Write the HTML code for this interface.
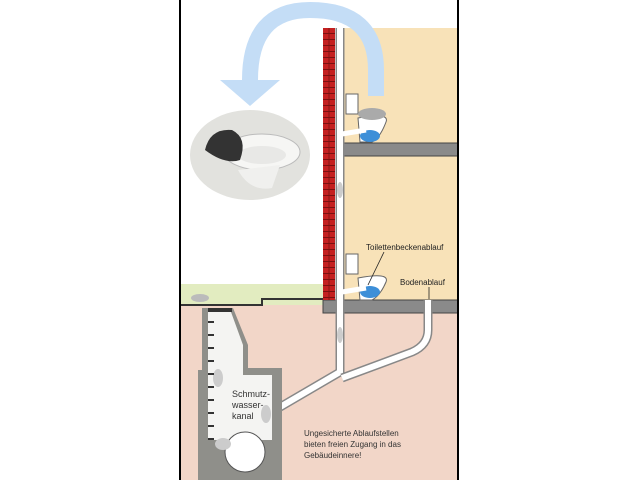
<!DOCTYPE html>
<html><head><style>body{margin:0;background:#fff}svg{display:block}</style></head><body>
<svg width="640" height="480" viewBox="0 0 640 480" xmlns="http://www.w3.org/2000/svg" font-family="Liberation Sans, sans-serif">
<defs>
<pattern id="brick" x="323" y="28" width="12" height="6" patternUnits="userSpaceOnUse">
<rect width="12" height="6" fill="#c42020"/>
<line x1="0" y1="5.5" x2="12" y2="5.5" stroke="#7a1010" stroke-width="1"/>
<line x1="6" y1="0" x2="6" y2="5.5" stroke="#7a1010" stroke-width="0.8"/>
</pattern>
</defs>
<rect width="640" height="480" fill="#fff"/>
<rect x="343" y="28" width="115" height="273" fill="#f8e2b8"/>
<rect x="181" y="284" width="142" height="21" fill="#e2ecc0"/>
<rect x="181" y="305" width="277" height="175" fill="#f2d6c8"/>
<path d="M181 305 H262 V299 H323" fill="none" stroke="#333" stroke-width="2"/>
<rect x="343" y="143" width="115" height="13" fill="#8a8a8a" stroke="#444"/>
<rect x="323" y="300" width="135" height="13" fill="#8a8a8a" stroke="#444"/>
<rect x="323" y="28" width="12" height="272" fill="url(#brick)"/>
<rect x="342" y="28" width="2" height="115" fill="#552"/>
<path d="M340 28 V372 L275 410" fill="none" stroke="#888" stroke-width="9"/>
<path d="M340 28 V372 L275 410" fill="none" stroke="#fff" stroke-width="6"/>
<path d="M428 300 V330 Q428 345 412 352 L342 378" fill="none" stroke="#888" stroke-width="9"/>
<path d="M428 300 V330 Q428 345 412 352 L342 378" fill="none" stroke="#fff" stroke-width="6"/>
<g>
<rect x="346" y="94" width="12" height="20" fill="#fff" stroke="#666"/>
<path d="M358 118 Q390 112 386 122 Q380 138 372 142 H360 Z" fill="#fff" stroke="#666"/>
<ellipse cx="370" cy="136" rx="10" ry="6" fill="#3d8fd8"/>
<ellipse cx="372" cy="114" rx="14" ry="6" fill="#aaa"/>
<path d="M342 134 L366 130" stroke="#fff" stroke-width="5"/>
</g>
<g>
<rect x="346" y="254" width="12" height="20" fill="#fff" stroke="#666"/>
<path d="M358 278 Q390 272 386 282 Q380 296 372 300 H360 Z" fill="#fff" stroke="#666"/>
<ellipse cx="370" cy="292" rx="10" ry="6" fill="#3d8fd8"/>
<path d="M342 292 L366 288" stroke="#fff" stroke-width="5"/>
</g>
<ellipse cx="200" cy="298" rx="9" ry="4" fill="#bbb"/>
<path d="M202 308 H233 L248 345 V368 H282 V480 H198 V370 H202 Z" fill="#8f8f8a"/>
<path d="M208 312 H231 L243 345 V375 H272 V440 H262 Q262 470 245 472 Q228 470 228 440 H208 Z" fill="#f4f4f2"/>
<circle cx="245" cy="452" r="20" fill="#fff" stroke="#555"/>
<rect x="208" y="308" width="24" height="4" fill="#333"/>
<ellipse cx="218" cy="378" rx="5" ry="9" fill="#ccc"/>
<ellipse cx="266" cy="414" rx="5" ry="9" fill="#ccc"/>
<ellipse cx="223" cy="444" rx="8" ry="6" fill="#ccc"/>
<ellipse cx="340" cy="335" rx="3" ry="8" fill="#ccc"/>
<ellipse cx="340" cy="190" rx="3" ry="8" fill="#ccc"/>
<g stroke="#333" stroke-width="2">
<line x1="208" y1="322" x2="214" y2="322"/><line x1="208" y1="335" x2="214" y2="335"/><line x1="208" y1="348" x2="214" y2="348"/><line x1="208" y1="361" x2="214" y2="361"/><line x1="208" y1="374" x2="214" y2="374"/><line x1="208" y1="387" x2="214" y2="387"/><line x1="208" y1="400" x2="214" y2="400"/><line x1="208" y1="413" x2="214" y2="413"/><line x1="208" y1="426" x2="214" y2="426"/><line x1="208" y1="439" x2="214" y2="439"/>
</g>
<text x="232" y="397" font-size="9" fill="#333">Schmutz-</text>
<text x="232" y="408" font-size="9" fill="#333">wasser-</text>
<text x="232" y="419" font-size="9" fill="#333">kanal</text>
<text x="366" y="250" font-size="8" fill="#222">Toilettenbeckenablauf</text>
<line x1="384" y1="252" x2="368" y2="285" stroke="#222" stroke-width="0.8"/>
<text x="400" y="285" font-size="8" fill="#222">Bodenablauf</text>
<line x1="429" y1="287" x2="429" y2="299" stroke="#222" stroke-width="0.8"/>
<text x="304" y="436" font-size="8" fill="#333">Ungesicherte Ablaufstellen</text>
<text x="304" y="447" font-size="8" fill="#333">bieten freien Zugang in das</text>
<text x="304" y="458" font-size="8" fill="#333">Gebäudeinnere!</text>
<path d="M376 96 V70 Q376 10 310 10 Q250 10 250 80" fill="none" stroke="#c4ddf6" stroke-width="16"/>
<polygon points="220,80 280,80 250,106" fill="#c4ddf6"/>
<ellipse cx="250" cy="155" rx="60" ry="45" fill="#e2e2de"/>
<ellipse cx="262" cy="152" rx="38" ry="18" fill="#f6f6f4" stroke="#bbb"/>
<ellipse cx="262" cy="155" rx="24" ry="9" fill="#e8e8e6"/>
<path d="M238 170 Q250 192 272 188 L280 165 Z" fill="#f0f0ee"/>
<path d="M205 150 Q210 128 232 130 Q248 138 240 160 Q225 165 205 150Z" fill="#333"/>
<rect x="179" y="0" width="2" height="480" fill="#000"/>
<rect x="457" y="0" width="2" height="480" fill="#000"/>
</svg>
</body></html>
